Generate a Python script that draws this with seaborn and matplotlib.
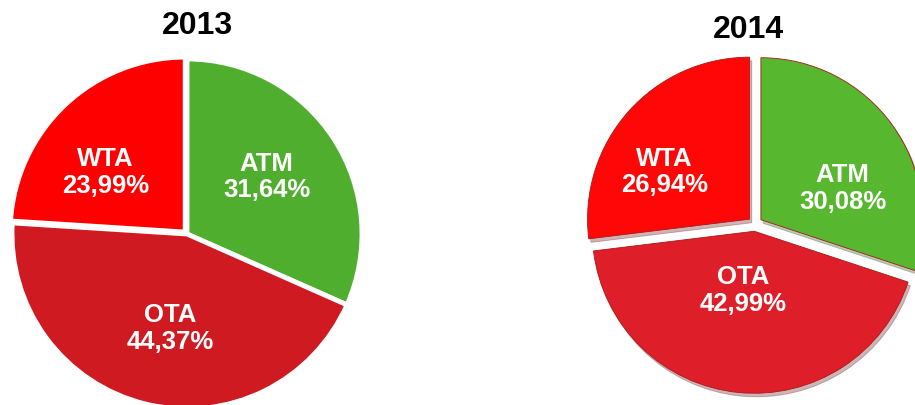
import matplotlib
matplotlib.use("Agg")
import numpy as np
import matplotlib.pyplot as plt
import seaborn as sns

sns.set_theme(style="white")
plt.rcParams['font.family'] = ['Liberation Sans', 'DejaVu Sans']

# data
segments = ['ATM', 'OTA', 'WTA']
share_2013 = [31.64, 44.37, 23.99]
share_2014 = [30.08, 42.99, 26.94]
colors_2013 = ['#4FAE2E', '#D01A22', '#FF0000']
colors_2014 = ['#57B72F', '#DE1F2A', '#FF0707']

# label placement tweaks (radial distance, angle nudge in degrees) per wedge
lab_2013 = [(0.56, 2.5), (0.55, 3.5), (0.57, 10)]
lab_2014 = [(0.54, -15), (0.37, -5), (0.60, 12.5)]


def fmt_labels(names, vals):
    return [f"{n}\n{v:.2f}%".replace('.', ',') for n, v in zip(names, vals)]


def place_labels(wedges, texts, tweaks):
    for w, t, (d, nudge) in zip(wedges, texts, tweaks):
        a = np.deg2rad((w.theta1 + w.theta2) / 2 + nudge)
        x0, y0 = w.center
        t.set_position((x0 + d * w.r * np.cos(a), y0 + d * w.r * np.sin(a)))


txt = dict(ha='center', va='center', color='white', fontweight='bold',
           fontsize=18.5, linespacing=1.15)

W, H = 915, 405
fig = plt.figure(figsize=(W / 100, H / 100), dpi=100)

# left pie: 2013 (flat, white separators)
cx, cy, r = 187, 234, 175
box = 2.2 * r
ax1 = fig.add_axes([(cx - box / 2) / W, (H - cy - box / 2) / H, box / W, box / H])
w1, t1 = ax1.pie(share_2013, labels=fmt_labels(segments, share_2013), colors=colors_2013,
                 startangle=90, counterclock=False, explode=[0, 0, 0.015],
                 wedgeprops=dict(edgecolor='white', linewidth=3.5), textprops=txt)
place_labels(w1, t1, lab_2013)
ax1.set_xlim(-1.1, 1.1); ax1.set_ylim(-1.1, 1.1)

# right pie: 2014 (exploded, light shadow)
cx, cy, r = 755, 224, 162
box = 2.2 * r
ax2 = fig.add_axes([(cx - box / 2) / W, (H - cy - box / 2) / H, box / W, box / H])
w2, t2 = ax2.pie(share_2014, labels=fmt_labels(segments, share_2014), colors=colors_2014,
                 startangle=90, counterclock=False, explode=[0.045, 0.045, 0.045],
                 shadow=dict(ox=0.01, oy=-0.016, shade=0.6, alpha=0.3),
                 wedgeprops=dict(edgecolor='#A81818', linewidth=0.6), textprops=txt)
place_labels(w2, t2, lab_2014)
ax2.set_xlim(-1.1, 1.1); ax2.set_ylim(-1.1, 1.1)

fig.text(197 / W, 1 - 26 / H, '2013', ha='center', va='center', fontsize=23,
         fontweight='bold', color='black')
fig.text(748 / W, 1 - 30 / H, '2014', ha='center', va='center', fontsize=23,
         fontweight='bold', color='black')

fig.savefig('out.png', dpi=100)
